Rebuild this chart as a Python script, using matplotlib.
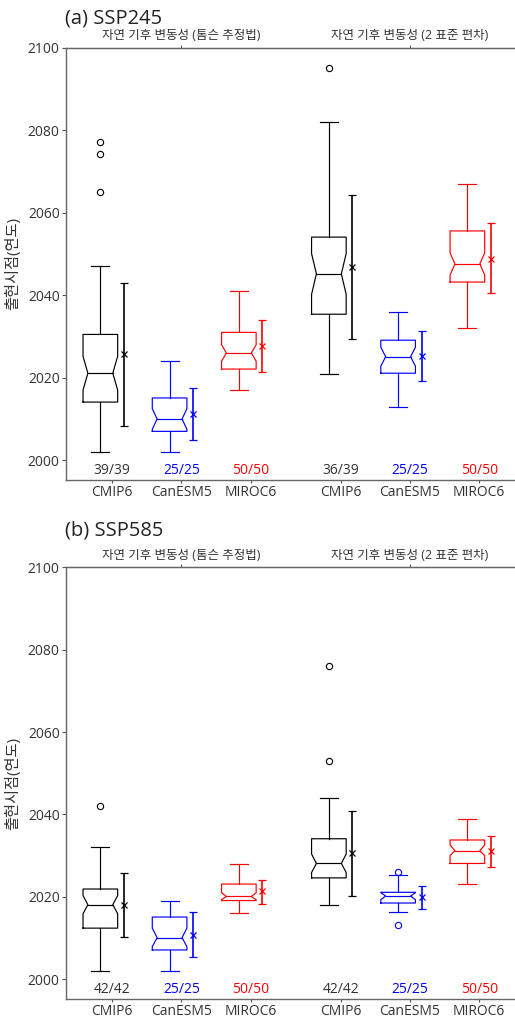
import numpy as np
import matplotlib
matplotlib.use('Agg')
import matplotlib.pyplot as plt

plt.rcParams['font.family'] = ['Open Sans', 'Noto Sans CJK KR', 'DejaVu Sans']

# --- data ---
models = ['CMIP6', 'CanESM5', 'MIROC6', 'CMIP6', 'CanESM5', 'MIROC6']
colors = ['black', 'blue', 'red', 'black', 'blue', 'red']
group_labels = ['자연 기후 변동성 (톰슨 추정법)', '자연 기후 변동성 (2 표준 편차)']

# (a) SSP245
a_med = [2021.1, 2010.0, 2026.0, 2045.2, 2025.1, 2047.6]
a_q1 = [2014.1, 2007.0, 2022.1, 2035.4, 2021.1, 2043.2]
a_q3 = [2030.5, 2015.1, 2031.0, 2054.1, 2029.1, 2055.6]
a_cilo = [2017.0, 2007.5, 2024.0, 2040.2, 2022.8, 2044.9]
a_cihi = [2025.2, 2012.5, 2028.0, 2050.1, 2027.4, 2050.3]
a_whislo = [2002.0, 2002.0, 2017.0, 2021.0, 2013.0, 2032.0]
a_whishi = [2047.0, 2024.0, 2041.0, 2082.0, 2036.0, 2067.0]
a_fliers = [[2065.0, 2074.2, 2077.1], [], [], [2095.0], [], []]
a_mean = [2025.7, 2011.3, 2027.6, 2046.8, 2025.3, 2048.9]
a_err_lo = [2008.3, 2005.0, 2021.3, 2029.5, 2019.2, 2040.6]
a_err_hi = [2042.9, 2017.4, 2034.0, 2064.2, 2031.3, 2057.4]
a_counts = ['39/39', '25/25', '50/50', '36/39', '25/25', '50/50']

# (b) SSP585
b_med = [2018.1, 2010.1, 2020.1, 2028.1, 2020.2, 2031.2]
b_q1 = [2012.4, 2007.1, 2019.1, 2024.6, 2018.5, 2028.1]
b_q3 = [2021.9, 2015.1, 2023.1, 2034.1, 2021.1, 2033.8]
b_cilo = [2015.9, 2007.9, 2019.3, 2025.9, 2019.3, 2030.0]
b_cihi = [2020.3, 2012.4, 2021.0, 2030.4, 2021.0, 2032.6]
b_whislo = [2002.0, 2002.0, 2016.0, 2018.0, 2016.2, 2023.0]
b_whishi = [2032.0, 2019.0, 2028.0, 2044.0, 2025.2, 2039.0]
b_fliers = [[2042.0], [], [], [2053.0, 2076.0], [2013.1, 2026.0], []]
b_mean = [2018.1, 2010.8, 2021.3, 2030.6, 2019.9, 2031.2]
b_err_lo = [2010.2, 2005.5, 2018.3, 2020.2, 2017.0, 2027.3]
b_err_hi = [2025.9, 2016.2, 2024.1, 2040.9, 2022.7, 2034.8]
b_counts = ['42/42', '25/25', '50/50', '42/42', '25/25', '50/50']

panels = [
    ('(a) SSP245', a_med, a_q1, a_q3, a_cilo, a_cihi, a_whislo, a_whishi, a_fliers,
     a_mean, a_err_lo, a_err_hi, a_counts),
    ('(b) SSP585', b_med, b_q1, b_q3, b_cilo, b_cihi, b_whislo, b_whishi, b_fliers,
     b_mean, b_err_lo, b_err_hi, b_counts),
]

positions = np.array([1, 2, 3, 4.3, 5.3, 6.3])
group_pos = [2, 5.3]
box_off = -0.17   # box left of tick
err_off = 0.17    # mean +/- error bar right of tick
box_w = 0.5
notch_in = 0.14 * box_w
cap_w = 0.26


def notched_box(ax, x, med, q1, q3, cilo, cihi, lo, hi, fliers, c):
    l, r = x - box_w / 2, x + box_w / 2
    nl, nr = l + notch_in, r - notch_in
    xs = [l, r, r, nr, r, r, l, l, nl, l, l]
    ys = [q1, q1, cilo, med, cihi, q3, q3, cihi, med, cilo, q1]
    ax.plot(xs, ys, color=c, lw=0.85)
    ax.plot([nl, nr], [med, med], color=c, lw=0.85)
    ax.plot([x, x], [q3, hi], color=c, lw=0.85)
    ax.plot([x, x], [q1, lo], color=c, lw=0.85)
    ax.plot([x - cap_w / 2, x + cap_w / 2], [hi, hi], color=c, lw=0.85)
    ax.plot([x - cap_w / 2, x + cap_w / 2], [lo, lo], color=c, lw=0.85)
    if fliers:
        ax.plot([x] * len(fliers), fliers, 'o', ms=4.5, mfc='none', mec=c, mew=0.8)


fig = plt.figure(figsize=(5.15, 10.17), dpi=100)
axes_rect = [[0.128, 0.528, 0.875, 0.425], [0.128, 0.0177, 0.875, 0.4245]]
title_y = [0.9765, 0.4735]

for (title, med, q1, q3, cilo, cihi, wlo, whi, fl, mean, elo, ehi, counts), rect, ty in zip(
        panels, axes_rect, title_y):
    ax = fig.add_axes(rect)
    for i, x in enumerate(positions):
        c = colors[i]
        notched_box(ax, x + box_off, med[i], q1[i], q3[i], cilo[i], cihi[i],
                    wlo[i], whi[i], fl[i], c)
        ax.errorbar(x + err_off, mean[i],
                    yerr=[[mean[i] - elo[i]], [ehi[i] - mean[i]]],
                    fmt='x', color=c, ms=4, mew=0.9, elinewidth=1.2,
                    capsize=3, capthick=2.5)
        ax.text(x, 1995.6, counts[i], ha='center', va='bottom', fontsize=10,
                color='#333333' if c == 'black' else c)

    ax.set_xlim(0.333, 6.84)
    ax.set_ylim(1995.2, 2100)
    ax.set_yticks(np.arange(2000, 2101, 20))
    ax.set_xticks(positions)
    ax.set_xticklabels(models)
    ax.set_ylabel('출현시점(연도)', fontsize=11, color='#333333', labelpad=5)
    ax.tick_params(axis='y', labelsize=10, labelcolor='#333333', color='#555555',
                   length=3, width=0.8, pad=1.5)
    ax.tick_params(axis='x', labelsize=10, labelcolor='#333333', color='#555555',
                   length=2.5, width=0.8, pad=0.8)

    for s in ['right']:
        ax.spines[s].set_visible(False)
    for s in ['left', 'bottom', 'top']:
        ax.spines[s].set_color('#666666')
        ax.spines[s].set_linewidth(1.0)

    top = ax.secondary_xaxis('top')
    top.set_xticks(group_pos)
    top.set_xticklabels(group_labels)
    top.tick_params(labelsize=9, labelcolor='#333333', color='#555555',
                    length=2.5, width=0.8, pad=1.5)
    top.spines['top'].set_color('#666666')

    fig.text(0.126, ty, title, fontsize=14.5, color='#222222', va='baseline', ha='left')

plt.savefig('out.png', dpi=100)
plt.close()
